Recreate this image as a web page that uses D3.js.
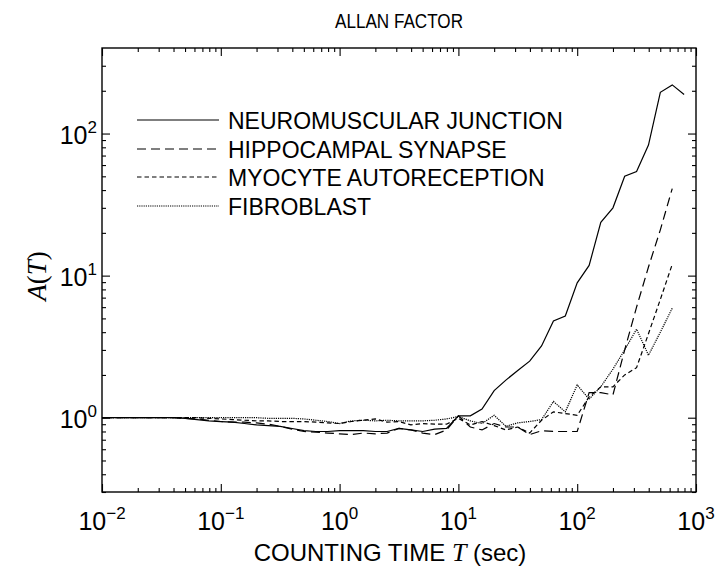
<!DOCTYPE html>
<html><head><meta charset="utf-8">
<script src="https://cdn.jsdelivr.net/npm/d3@7"></script>
<style>
body{margin:0;background:#fff}
svg{display:block}
text{font-family:"Liberation Sans",Arial,sans-serif;fill:#000}
</style>
</head><body>
<svg id="c" width="720" height="567"></svg>
<script>
// ---- data ----
const countingTimes = [0.0100,0.0126,0.0158,0.0200,0.0251,0.0316,0.0398,0.0501,0.0631,0.0794,
  0.100,0.126,0.158,0.200,0.251,0.316,0.398,0.501,0.631,0.794,
  1.00,1.26,1.58,2.00,2.51,3.16,3.98,5.01,6.31,7.94,
  10.0,12.6,15.8,20.0,25.1,31.6,39.8,50.1,63.1,79.4,
  100,126,158,200,251,316,398,501,631,794];
const neuromuscular = [1.00,1.00,1.00,1.00,1.00,1.00,1.00,0.99,0.97,0.95,
  0.94,0.93,0.91,0.89,0.88,0.87,0.84,0.81,0.80,0.80,
  0.81,0.81,0.81,0.80,0.80,0.84,0.82,0.80,0.83,0.84,
  1.03,1.03,1.15,1.55,1.84,2.15,2.50,3.20,4.80,5.20,
  8.90,11.8,23.7,30.0,50.0,54.0,83.0,195,220,188];
const hippocampal = [1.00,1.00,1.00,1.00,1.00,1.00,1.00,0.99,0.98,0.96,
  0.94,0.93,0.93,0.92,0.90,0.87,0.83,0.80,0.79,0.78,
  0.77,0.76,0.78,0.77,0.78,0.84,0.82,0.78,0.76,0.82,
  1.03,0.86,0.82,0.91,0.86,0.86,0.76,0.81,0.80,0.80,
  0.80,1.50,1.50,1.45,3.00,6.00,11.5,21.0,41.0,null];
const myocyte = [1.00,1.00,1.00,1.00,1.00,1.00,1.00,1.00,1.00,0.99,
  0.98,0.97,0.96,0.95,0.95,0.94,0.94,0.94,0.93,0.92,
  0.91,0.94,0.96,0.98,0.93,0.94,0.89,0.91,0.90,0.90,
  0.99,0.89,0.94,0.88,0.82,0.86,0.78,0.96,1.10,1.07,
  1.04,1.40,1.65,1.65,2.00,2.25,3.90,6.80,12.0,null];
const fibroblast = [1.00,1.00,1.00,1.00,1.00,1.00,1.00,1.00,1.00,1.00,
  1.00,1.00,1.00,1.00,0.99,0.99,0.99,0.98,0.96,0.94,
  0.91,0.95,0.96,0.95,0.96,0.95,0.95,0.95,0.96,0.98,
  1.02,0.95,0.91,1.04,0.87,0.92,0.94,0.97,1.30,1.10,
  1.70,1.35,1.65,2.20,3.00,4.20,2.75,4.00,5.90,null];
const seriesNames = ["NEUROMUSCULAR JUNCTION","HIPPOCAMPAL SYNAPSE","MYOCYTE AUTORECEPTION","FIBROBLAST"];
const xTickValues = [0.01,0.1,1,10,100,1000];
const xTickExponents = ["\u22122","\u22121","0","1","2","3"];
const yTickValues = [1,10,100];
const yTickExponents = ["0","1","2"];
const titleText = "ALLAN FACTOR";

// ---- layout ----
const L = 102, R = 696, T = 48, B = 492;
const svg = d3.select("#c");
const x = d3.scaleLog().domain([0.01, 1000]).range([L, R]);
const y = d3.scaleLog().domain([0.3, 400]).range([B, T]);

const series = [
  {name: seriesNames[0], values: neuromuscular, dash: null},
  {name: seriesNames[1], values: hippocampal, dash: "9,5"},
  {name: seriesNames[2], values: myocyte, dash: "4.5,3"},
  {name: seriesNames[3], values: fibroblast, dash: "1.2,1"}
];

const xMinor = [];
for (let e = -2; e < 3; e++) for (let k = 2; k <= 9; k++) xMinor.push(k * Math.pow(10, e));
const yMinor = [];
for (let e = -1; e < 3; e++) for (let k = 2; k <= 9; k++) {
  const v = k * Math.pow(10, e);
  if (v > 0.3 && v < 400) yMinor.push(v);
}

function axis(gen, tr, vals, size) {
  svg.append("g").attr("transform", tr)
    .call(gen.tickValues(vals).tickSize(size).tickSizeOuter(0).tickFormat(""))
    .call(g => g.select(".domain").remove())
    .call(g => g.selectAll("line").attr("stroke", "#000").attr("stroke-width", 1.1));
}
axis(d3.axisBottom(x), `translate(0,${B})`, xTickValues, -8);
axis(d3.axisBottom(x), `translate(0,${B})`, xMinor, -4);
axis(d3.axisTop(x), `translate(0,${T})`, xTickValues, -8);
axis(d3.axisTop(x), `translate(0,${T})`, xMinor, -4);
axis(d3.axisLeft(y), `translate(${L},0)`, yTickValues, -8);
axis(d3.axisLeft(y), `translate(${L},0)`, yMinor, -4);
axis(d3.axisRight(y), `translate(${R},0)`, yTickValues, -8);
axis(d3.axisRight(y), `translate(${R},0)`, yMinor, -4);

svg.append("rect").attr("x", L).attr("y", T).attr("width", R - L).attr("height", B - T)
  .attr("fill", "none").attr("stroke", "#000").attr("stroke-width", 1.4);

// ---- lines ----
const line = d3.line()
  .defined(d => d[1] != null)
  .x(d => x(d[0])).y(d => y(d[1]));
series.forEach(s => {
  const pts = countingTimes.map((t, i) => [t, s.values[i]]);
  svg.append("path").attr("d", line(pts))
    .attr("fill", "none").attr("stroke", "#000").attr("stroke-width", 1.2)
    .attr("stroke-dasharray", s.dash);
});

// ---- tick labels ----
xTickValues.forEach((v, i) => {
  const t = svg.append("text").attr("x", x(v)).attr("y", 530)
    .attr("text-anchor", "middle").style("font-size", "25px");
  t.append("tspan").text("10");
  t.append("tspan").attr("dy", -11).style("font-size", "17px").text(xTickExponents[i]);
});
yTickValues.forEach((v, i) => {
  const t = svg.append("text").attr("x", 97).attr("y", y(v) + 10)
    .attr("text-anchor", "end").style("font-size", "25px");
  t.append("tspan").text("10");
  t.append("tspan").attr("dy", -11).style("font-size", "17px").text(yTickExponents[i]);
});

// ---- titles ----
svg.append("text").attr("x", 399).attr("y", 28).attr("text-anchor", "middle")
  .attr("textLength", 128).attr("lengthAdjust", "spacingAndGlyphs")
  .style("font-size", "20px").text(titleText);

const xt = svg.append("text").attr("x", 390).attr("y", 561).attr("text-anchor", "middle")
  .style("font-size", "24px");
xt.append("tspan").text("COUNTING TIME ");
xt.append("tspan").style("font-family", "'Liberation Serif','Times New Roman',serif")
  .style("font-style", "italic").style("font-size", "26px").text("T");
xt.append("tspan").text(" (sec)");

const yt = svg.append("text").attr("transform", `translate(46,${(T + B) / 2 + 6}) rotate(-90)`)
  .attr("text-anchor", "middle")
  .style("font-family", "'Liberation Serif','Times New Roman',serif").style("font-size", "27px");
yt.append("tspan").style("font-style", "italic").text("A");
yt.append("tspan").text("(");
yt.append("tspan").style("font-style", "italic").text("T");
yt.append("tspan").text(")");

// ---- legend ----
const legY = [120, 149, 177, 206];
series.forEach((s, i) => {
  svg.append("line").attr("x1", 137).attr("x2", 219).attr("y1", legY[i]).attr("y2", legY[i])
    .attr("stroke", "#000").attr("stroke-width", 1.2).attr("stroke-dasharray", s.dash);
  svg.append("text").attr("x", 228).attr("y", legY[i] + 8.5)
    .style("font-size", "23px").text(s.name);
});
</script>
</body></html>
